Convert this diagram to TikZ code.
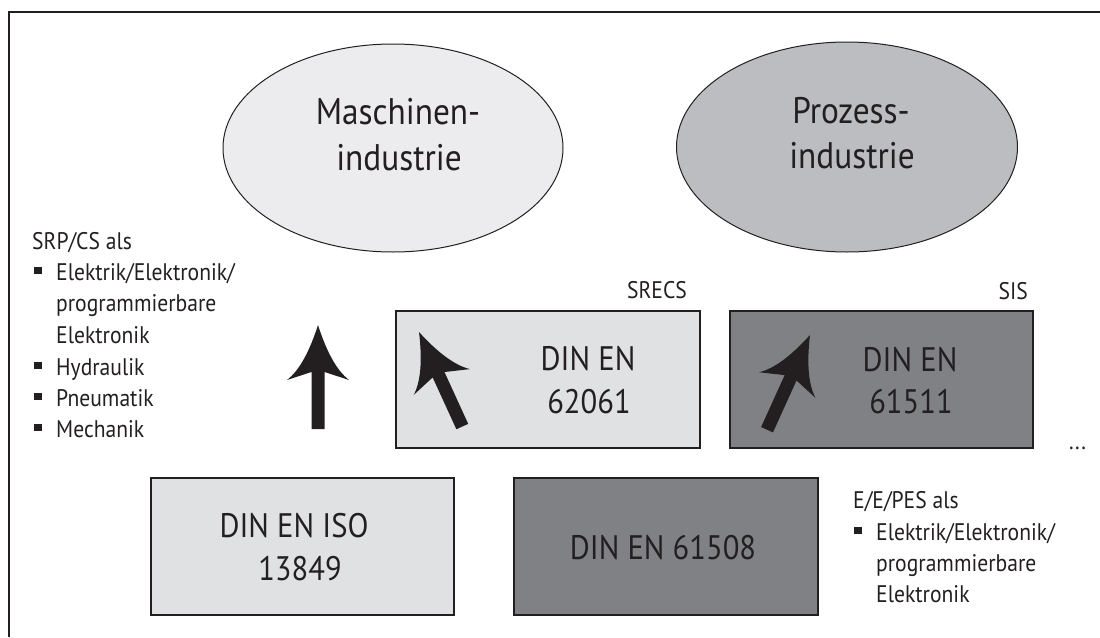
\documentclass[tikz,border=0pt]{standalone}
\usepackage{fontspec}
\setmainfont{PT Sans}[FakeStretch=0.9]
\usetikzlibrary{shapes.geometric}
\definecolor{ink}{HTML}{231F20}
\definecolor{ellA}{HTML}{ECECEE}
\definecolor{ellB}{HTML}{BCBDC0}
\definecolor{boxA}{HTML}{E0E1E3}
\definecolor{boxB}{HTML}{808185}
\newcommand{\bul}{\makebox[24pt][l]{\hspace{2pt}\rule[6pt]{8pt}{7pt}}}
\tikzset{
  ell/.style={ellipse, draw=ink, line width=1pt, inner sep=0pt},
  stdbox/.style={rectangle, draw=ink, line width=1.8pt, inner sep=0pt},
  big/.style={font=\fontsize{37}{44}\selectfont, text=ink, inner sep=0pt, anchor=base},
  mid/.style={font=\fontsize{34}{42}\selectfont, text=ink, inner sep=0pt, anchor=base},
  small/.style={font=\fontsize{24}{30}\selectfont, text=ink, inner sep=0pt, anchor=base west},
  smallr/.style={font=\fontsize{24}{30}\selectfont, text=ink, inner sep=0pt, anchor=base east},
  arrowfill/.style={fill=ink, draw=none}
}
\newcommand{\bigarrowpath}{%
  (0,0) .. controls (8,25) and (18,45) .. (31,55) -- (6.5,47) -- (6.5,104)
  -- (-6.5,104) -- (-6.5,47) -- (-31,55) .. controls (-18,45) and (-8,25) .. cycle}
\begin{document}
\begin{tikzpicture}[x=1pt,y=-1pt]
\useasboundingbox (0,0) rectangle (1100,637);
% frame
\coordinate (frTR) at (1100,12);
\coordinate (frTL) at (9,12);
\coordinate (frBL) at (9,637);
\draw[ink, line width=1.5pt] (frTR) -- (frTL) -- (frBL);

% ellipses
\node[ell, fill=ellA, minimum width=340pt, minimum height=208pt] (maschine) at (393,148) {};
\node[ell, fill=ellB, minimum width=341pt, minimum height=210pt] (prozess) at (847,147) {};
\node[big] (m1) at (398,124) {Maschinen-};
\node[big] (m2) at (399,170) {industrie};
\node[big] (p1) at (851,123) {Prozess-};
\node[big] (p2) at (852,168) {industrie};

% upper boxes
\node[stdbox, fill=boxA, minimum width=304pt, minimum height=137pt] (b62061) at (548,379.5) {};
\node[stdbox, fill=boxB, minimum width=303pt, minimum height=137pt] (b61511) at (881.5,379.5) {};
\node[mid] (t62061a) at (588,370) {DIN EN};
\node[mid] (t62061b) at (589,413) {62061};
\node[mid] (t61511a) at (910,371) {DIN EN};
\node[mid] (t61511b) at (911,413) {61511};
\node[smallr] (srecs) at (687,298) {SRECS};
\node[smallr] (sis) at (1028,299) {SIS};

% lower boxes
\node[stdbox, fill=boxA, minimum width=303pt, minimum height=137pt] (b13849) at (302.5,546.5) {};
\node[stdbox, fill=boxB, minimum width=304pt, minimum height=137pt] (b61508) at (666,546.5) {};
\node[mid] (t13849a) at (294,537) {DIN EN ISO};
\node[mid] (t13849b) at (300,580) {13849};
\node[mid] (t61508) at (663,559) {DIN EN 61508};

% arrows
\begin{scope}[shift={(318,325)}]
  \fill[arrowfill] \bigarrowpath;
\end{scope}
\begin{scope}[shift={(419,332)}, rotate=24.6]
  \fill[arrowfill] \bigarrowpath;
\end{scope}
\begin{scope}[shift={(810,335)}, rotate=-24.4]
  \fill[arrowfill] \bigarrowpath;
\end{scope}

% left list
\node[small] (l1) at (32,249) {SRP/CS als};
\node[small] (l2) at (32,280.3) {\bul Elektrik/Elektronik/};
\node[small] (l3) at (56,311.6) {programmierbare};
\node[small] (l4) at (56,343) {Elektronik};
\node[small] (l5) at (32,375) {\bul Hydraulik};
\node[small] (l6) at (32,406) {\bul Pneumatik};
\node[small] (l7) at (32,437) {\bul Mechanik};

% right list
\node[small] (r1) at (853,508) {E/E/PES als};
\node[small] (r2) at (852,540) {\bul Elektrik/Elektronik/};
\node[small] (r3) at (876,571) {programmierbare};
\node[small] (r4) at (876,602) {Elektronik};

\node[small] (dots) at (1069,449) {...};
\end{tikzpicture}
\end{document}
